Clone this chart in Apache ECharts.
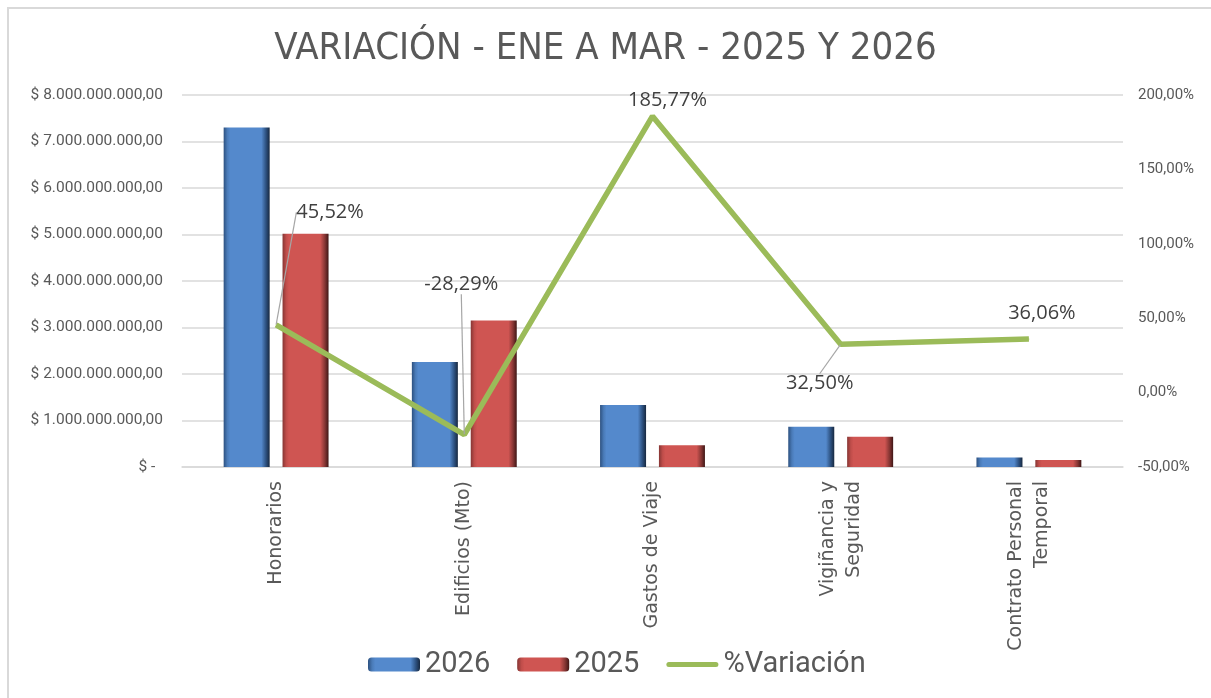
<!DOCTYPE html>
<html>
<head>
<meta charset="utf-8">
<script src="https://cdn.jsdelivr.net/npm/echarts@6/dist/echarts.min.js"></script>
<style>
  html, body { margin: 0; padding: 0; background: #fff; }
  #chart { width: 1211px; height: 698px; }
</style>
</head>
<body>
<div id="chart"></div>
<script>
const categories = ['Honorarios', 'Edificios (Mto)', 'Gastos de Viaje', 'Vigiñancia y\nSeguridad', 'Contrato Personal\nTemporal']
const values2026 = [7300000000, 2260000000, 1333000000, 865000000, 205000000]
const values2025 = [5017000000, 3150000000, 466500000, 653000000, 151000000]
const variacion = [0.4552, -0.2829, 1.8577, 0.325, 0.3606]

// escalas de los ejes
const moneyTicks = { min: 0, max: 8000000000, step: 1000000000 }
const pctTicks = { min: -0.5, max: 2, step: 0.5 }

// desplazamiento de las etiquetas de %Variación (como en el gráfico de Excel)
const labelShift = [[54, -97], [-3, -135], [15, 0], [-21, 55], [13, -10]]
const showLeader = [true, true, false, true, false]

const textColor = '#595959'
const gridColor = '#d9d9d9'
const lineColor = '#9bbb59'

function money(v) {
  if (v === 0) return '$ -  '
  const parts = v.toFixed(2).split('.')
  return '$ ' + parts[0].replace(/\B(?=(\d{3})+(?!\d))/g, '.') + ',' + parts[1]
}

function pct(v) {
  return (v * 100).toFixed(2).replace('.', ',') + '%'
}

function bevel(light, face, dark, darker) {
  return new echarts.graphic.LinearGradient(0, 0, 1, 0, [
    { offset: 0, color: dark },
    { offset: 0.08, color: light },
    { offset: 0.14, color: face },
    { offset: 0.82, color: face },
    { offset: 0.92, color: dark },
    { offset: 1, color: darker }
  ])
}

const chart = echarts.init(document.getElementById('chart'))

const option = {
  backgroundColor: '#fff',
  animation: false,
  graphic: [
    {
      type: 'rect',
      shape: { x: 8, y: 8, width: 1400, height: 900 },
      style: { fill: 'none', stroke: gridColor, lineWidth: 2 },
      silent: true
    }
  ],
  title: {
    text: 'VARIACIÓN - ENE A MAR - 2025 Y 2026',
    left: 'center',
    top: 25,
    textStyle: {
      fontFamily: '"Liberation Sans Narrow", "DejaVu Sans Condensed", Roboto',
      fontSize: 38,
      fontWeight: 'normal',
      color: textColor
    }
  },
  legend: {
    bottom: 14,
    left: 363,
    itemWidth: 52,
    itemHeight: 14,
    itemGap: 27,
    textStyle: { fontFamily: 'Roboto', fontSize: 29, color: textColor },
    data: [
      '2026',
      '2025',
      {
        name: '%Variación',
        icon: 'path://M2.5,0 L49.5,0 A2.5,2.5 0 0 1 49.5,5 L2.5,5 A2.5,2.5 0 0 1 2.5,0 Z',
        itemStyle: { color: lineColor }
      }
    ]
  },
  grid: { left: 182, right: 88, top: 95, bottom: 231 },
  xAxis: {
    type: 'category',
    data: categories,
    axisTick: { show: false },
    axisLine: { lineStyle: { color: gridColor, width: 1.5 } },
    axisLabel: {
      rotate: 90,
      margin: 14,
      interval: 0,
      fontFamily: 'DejaVu Sans',
      fontSize: 19,
      lineHeight: 26,
      color: textColor
    }
  },
  yAxis: [
    {
      type: 'value',
      min: moneyTicks.min,
      max: moneyTicks.max,
      interval: moneyTicks.step,
      axisLine: { show: false },
      axisTick: { show: false },
      axisLabel: {
        margin: 19,
        fontFamily: 'Roboto',
        fontSize: 15.5,
        color: textColor,
        formatter: money
      },
      splitLine: { lineStyle: { color: gridColor, width: 1.5 } }
    },
    {
      type: 'value',
      min: pctTicks.min,
      max: pctTicks.max,
      interval: pctTicks.step,
      axisLine: { show: false },
      axisTick: { show: false },
      axisLabel: {
        margin: 15,
        fontFamily: 'Roboto',
        fontSize: 15,
        color: textColor,
        formatter: pct
      },
      splitLine: { show: false }
    }
  ],
  series: [
    {
      name: '2026',
      type: 'bar',
      data: values2026,
      barWidth: 46,
      barGap: '28%',
      itemStyle: {
        color: bevel('#4a7bb8', '#5489cc', '#2d5180', '#17283f')
      }
    },
    {
      name: '2025',
      type: 'bar',
      data: values2025,
      barWidth: 46,
      barGap: '28%',
      itemStyle: {
        color: bevel('#bf4d4a', '#cf5552', '#863634', '#3f1615')
      }
    },
    {
      name: '%Variación',
      type: 'line',
      yAxisIndex: 1,
      symbol: 'circle',
      symbolSize: 1,
      itemStyle: { color: lineColor },
      lineStyle: { color: lineColor, width: 5.5 },
      z: 5,
      data: variacion.map((v, i) => ({
        value: v,
        labelLine: { show: showLeader[i] }
      })),
      label: {
        show: true,
        position: 'top',
        fontFamily: '"Open Sans"',
        fontSize: 20,
        color: '#404040',
        formatter: (p) => pct(p.value)
      },
      labelLine: {
        show: true,
        lineStyle: { color: '#a6a6a6', width: 1.2 }
      },
      labelLayout: (params) => ({
        dx: labelShift[params.dataIndex][0],
        dy: labelShift[params.dataIndex][1]
      })
    }
  ]
}

chart.setOption(option)
window.addEventListener('resize', () => {
  chart.resize()
})
</script>
</body>
</html>
